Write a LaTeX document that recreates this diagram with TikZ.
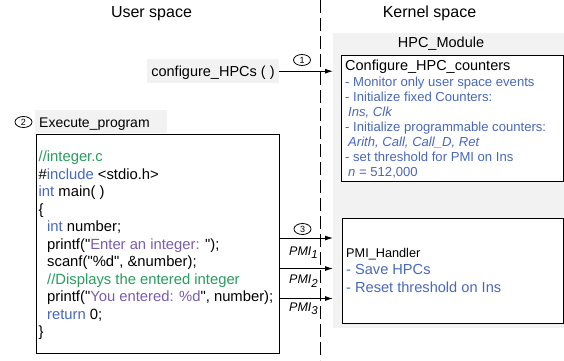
\documentclass[tikz,border=0pt]{standalone}
\usepackage{fontspec}
\setmainfont{Liberation Sans}
\newfontfamily\codefont{Liberation Sans}
\usetikzlibrary{arrows.meta,shapes.geometric}
\definecolor{cgreen}{RGB}{38,158,92}
\definecolor{cblue}{RGB}{72,104,192}
\definecolor{cpurple}{RGB}{122,92,178}
\definecolor{bggray}{RGB}{242,242,242}
\newcommand{\fsz}[1]{\fontsize{#1}{#1}\selectfont}
\newcommand{\pmisub}[1]{\raisebox{-3.5pt}{\fsz{11.5}\itshape #1}}
\tikzset{
  ttl/.style={anchor=base, inner sep=0pt, font=\fsz{16}},
  txt/.style={anchor=base west, inner sep=0pt},
  code/.style={txt, font=\codefont\fsz{14.8}},
  cfgtxt/.style={txt, font=\fsz{13.1}, text=cblue},
  grayfill/.style={fill=bggray, draw=none},
  whitebox/.style={draw=black, fill=white, line width=1pt, anchor=north west, inner sep=0pt},
  circnum/.style={draw, ellipse, inner sep=0pt, minimum width=17pt, minimum height=11pt, font=\fsz{9}, line width=0.8pt},
  arr/.style={line width=0.9pt, -{Latex[length=8pt,width=5pt]}},
  pmi/.style={anchor=base east, inner sep=0pt, font=\fsz{12.5}\itshape},
}
\begin{document}
\begin{tikzpicture}[x=1pt,y=-1pt]
\useasboundingbox (0,0) rectangle (564,360);
% titles
\node[ttl] (us) at (151.5,17) {User space};
\node[ttl] (ks) at (429.5,17) {Kernel space};
% dashed separator
\coordinate (dtop) at (320.5,0);
\coordinate (dbot) at (320.5,360);
\draw[line width=1.2pt, dash pattern=on 13pt off 5pt] (dtop) -- (dbot);
% kernel gray region
\node[grayfill, anchor=north west, minimum width=231pt, minimum height=295pt, inner sep=0pt] (kern) at (333,33) {};
\node[anchor=base, inner sep=0pt, font=\fsz{14.5}] (hpcm) at (441,47) {HPC\_Module};
% configure box
\node[whitebox, minimum width=222pt, minimum height=126pt] (cfgbox) at (341,55) {};
\node[txt, font=\fsz{14.5}] (ct0) at (345,70.5) {Configure\_HPC\_counters};
\node[cfgtxt] (ct1) at (345,86) {- Monitor only user space events};
\node[cfgtxt] (ct2) at (345,101) {- Initialize fixed Counters:};
\node[cfgtxt] (ct3) at (348,116) {\itshape Ins, Clk};
\node[cfgtxt] (ct4) at (345,131) {- Initialize programmable counters:};
\node[cfgtxt] (ct5) at (348,146) {\itshape Arith, Call, Call\_D, Ret};
\node[cfgtxt] (ct6) at (345,161) {- set threshold for PMI on Ins};
\node[cfgtxt] (ct7) at (348,176) {\textit{n} = 512,000};
% configure_HPCs call
\node[grayfill, anchor=north west, minimum width=132pt, minimum height=24pt, inner sep=0pt] (cfg) at (147,59) {};
\node[anchor=base, inner sep=0pt, font=\fsz{14.5}] (cfgt) at (213,76.5) {configure\_HPCs ( )};
\draw[arr] (cfg.east) -- (kern.west |- cfg.east);
\node[circnum] (c1) at (302,60) {1};
% execute program
\node[circnum] (c2) at (23.5,122) {2};
\node[grayfill, anchor=north west, minimum width=132pt, minimum height=23pt, inner sep=0pt] (exe) at (35,110) {};
\node[txt, font=\fsz{14}] (exet) at (39,127) {Execute\_program};
\node[whitebox, minimum width=243pt, minimum height=219pt] (prog) at (36,134) {};
\node[code] (l1) at (38.5,161.5) {\textcolor{cgreen}{//integer.c}};
\node[code] (l2) at (38.5,179) {\#\textcolor{cblue}{include} <stdio.h>};
\node[code] (l3) at (38.5,196.5) {\textcolor{cblue}{int} main( )};
\node[code] (l4) at (38.5,214) {\{};
\node[code] (l5) at (47,231.5) {\textcolor{cblue}{int} number;};
\node[code] (l6) at (47,249) {printf("\textcolor{cpurple}{Enter an integer: }");};
\node[code] (l7) at (47,266.5) {scanf("\%d", \&number);};
\node[code] (l8) at (47,284) {\textcolor{cgreen}{//Displays the entered integer}};
\node[code] (l9) at (47,301.5) {printf("\textcolor{cpurple}{You entered: \%d}", number);};
\node[code] (l10) at (47,319) {\textcolor{cblue}{return} 0;};
\node[code] (l11) at (38.5,336.5) {\}};
% PMI handler
\node[whitebox, minimum width=221pt, minimum height=105pt] (pmih) at (342,218) {};
\node[txt, font=\fsz{12.7}] (ph0) at (346,257) {PMI\_Handler};
\node[txt, font=\fsz{14.6}, text=cblue] (ph1) at (346,274.5) {- Save HPCs};
\node[txt, font=\fsz{14.6}, text=cblue] (ph2) at (346,292) {- Reset threshold on Ins};
% PMI arrows
\coordinate (y1) at (0,238);
\coordinate (y2) at (0,268.5);
\coordinate (y3) at (0,298.5);
\draw[arr] (prog.east |- y1) -- (kern.west |- y1);
\draw[arr] (prog.east |- y2) -- (kern.west |- y2);
\draw[arr] (prog.east |- y3) -- (kern.west |- y3);
\node[circnum] (c3) at (302.5,229) {3};
\node[pmi] (pm1) at (318,255) {PMI\pmisub{1}};
\node[pmi] (pm2) at (318,283.5) {PMI\pmisub{2}};
\node[pmi] (pm3) at (318,311) {PMI\pmisub{3}};
\end{tikzpicture}
\end{document}
